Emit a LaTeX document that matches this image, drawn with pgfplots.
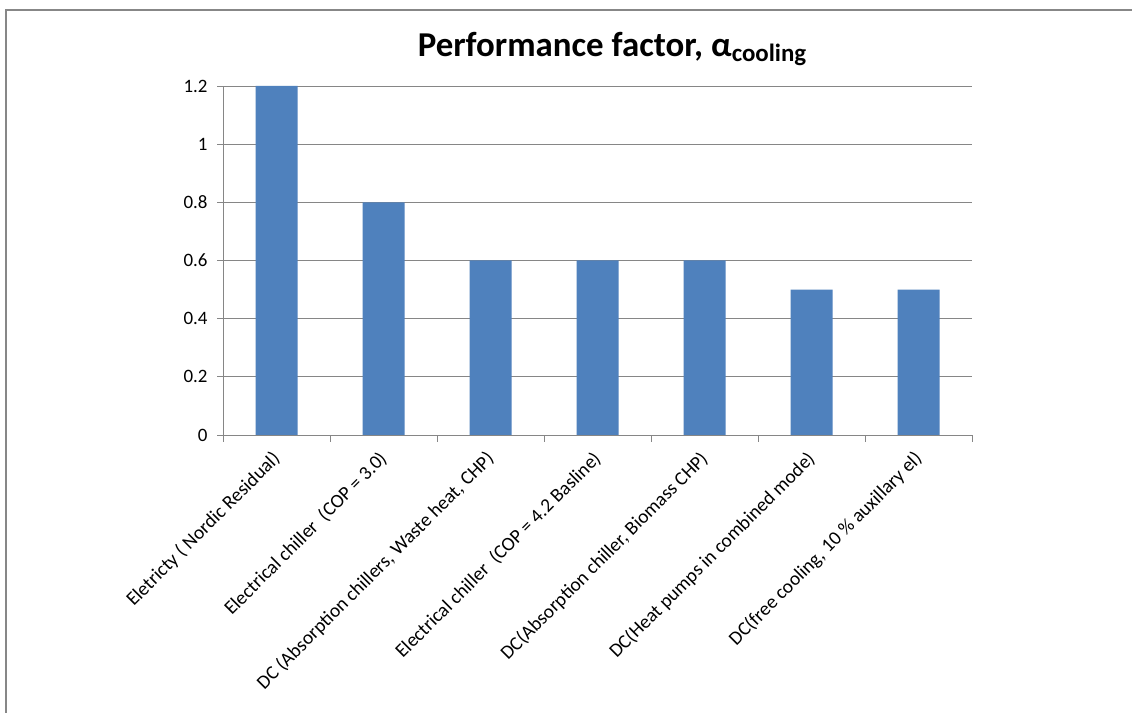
\documentclass[border=0pt]{standalone}
\usepackage{pgfplots}
\pgfplotsset{compat=1.18}
\usepackage{fontspec}
\setmainfont{Carlito}
\definecolor{barblue}{HTML}{4F81BD}
\definecolor{gridgray}{HTML}{868686}
\definecolor{framegray}{HTML}{878787}
\begin{document}
\begin{tikzpicture}
% page area, outer frame and title
\begin{scope}[x=1bp,y=1bp]
\useasboundingbox (0,0) rectangle (1132,713);
\fill[white] (0,0) rectangle (1132,713);
\draw[framegray, line width=2bp] (6,0) -- (6,703) -- (1132,703);
\node[anchor=base, inner sep=0pt] at (612,656) {\fontsize{35}{40}\selectfont\bfseries Performance factor, α\raisebox{-5bp}{\fontsize{25}{28}\selectfont cooling}};
\end{scope}
\begin{axis}[
  at={(223bp,278bp)}, anchor=south west,
  scale only axis, width=749bp, height=349bp,
  xmin=-0.5, xmax=6.5, ymin=0, ymax=1.2,
  ytick={0,0.2,...,1.2},
  yticklabels={0,0.2,0.4,0.6,0.8,1,1.2},
  xtick={0,...,6},
  minor xtick={-0.5,0.5,...,6.5},
  major x tick style={draw=none},
  minor x tick style={gridgray, line width=0.8bp},
  minor tick length=7bp,
  major tick length=6bp,
  tick align=outside,
  ytick style={gridgray, line width=0.8bp},
  ymajorgrids=true,
  grid style={gridgray, line width=0.8bp},
  axis x line*=bottom, axis y line*=left,
  axis line style={gridgray, line width=0.8bp, -},
  xticklabels={
    Eletricty ( Nordic Residual),
    Electrical chiller\ \ (COP = 3.0),
    {DC (Absorption chillers, Waste heat, CHP)},
    Electrical chiller\ \ (COP = 4.2 Basline),
    {DC(Absorption chiller, Biomass CHP)},
    DC(Heat pumps in combined mode),
    {DC(free cooling, 10 \% auxillary el)}},
  xticklabel style={rotate=45, anchor=north east, font=\fontsize{19.5}{22}\selectfont, inner sep=1bp, xshift=-9bp, yshift=-1bp},
  yticklabel style={font=\fontsize{19}{21}\selectfont, xshift=-6bp},
  /pgf/number format/assume math mode=true,
  ybar, bar width=42bp,
]
\addplot[fill=barblue, draw=none] coordinates {
  (0,1.2) (1,0.8) (2,0.6) (3,0.6) (4,0.6) (5,0.5) (6,0.5)
};
\end{axis}
\end{tikzpicture}
\end{document}
